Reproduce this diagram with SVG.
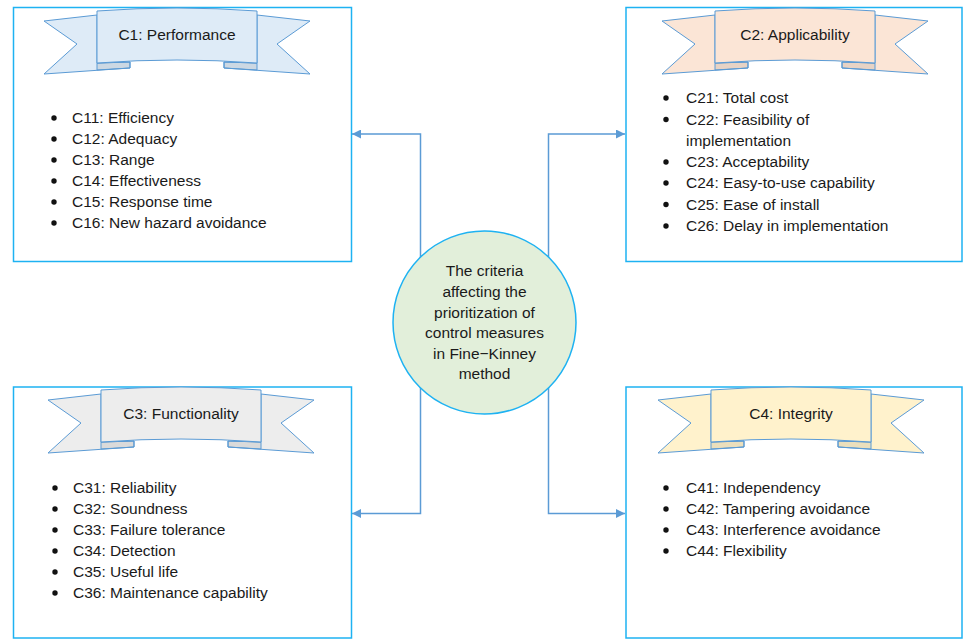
<svg xmlns="http://www.w3.org/2000/svg" xmlns:xlink="http://www.w3.org/1999/xlink" width="963" height="640" viewBox="0 0 963 640">
<style>
  .box { fill: #ffffff; stroke: #1EB2F2; stroke-width: 1.5; }
  .rb { stroke: #5B9BD5; stroke-width: 1; stroke-linejoin: miter; }
  .fold { fill: #000000; fill-opacity: 0.08; stroke: #5B9BD5; stroke-width: 1; }
  .title { font-family: "Liberation Sans", Arial, sans-serif; font-size: 15.5px; fill: #1a1a1a; text-anchor: middle; }
  .item { font-family: "Liberation Sans", Arial, sans-serif; font-size: 15.5px; fill: #1a1a1a; }
  .center { font-family: "Liberation Sans", Arial, sans-serif; font-size: 15.5px; fill: #1a1a1a; text-anchor: middle; }
  .bullet { fill: #111111; }
  .conn { fill: none; stroke: #5B9BD5; stroke-width: 1.5; }
</style>
<defs>
  <marker id="arrow" viewBox="0 0 10 10" refX="10" refY="5" markerWidth="9" markerHeight="9" markerUnits="userSpaceOnUse" orient="auto">
    <path d="M0,0 L10,5 L0,10 Z" fill="#5B9BD5"/>
  </marker>
  <g id="ribbon">
    <path class="rb" d="M-53,11 L0,5 L0,53 L33,52 L33,58 L-53,64 L-20,34 Z"/>
    <path class="rb" d="M213,11 L160,5 L160,53 L127,52 L127,58 L213,64 L180,34 Z"/>
    <path class="fold" d="M0,53 L33,52 L33,58 L0,60 Z"/>
    <path class="fold" d="M160,53 L127,52 L127,58 L160,60 Z"/>
    <path class="rb" d="M0,1 Q80,-5 160,1 L160,53 Q80,47 0,53 Z"/>
  </g>
</defs>

<g id="connectors">
  <path class="conn" d="M420.5,320 V134 H352" marker-end="url(#arrow)"/>
  <path class="conn" d="M420.5,320 V513.5 H352" marker-end="url(#arrow)"/>
  <path class="conn" d="M548.5,320 V134 H625" marker-end="url(#arrow)"/>
  <path class="conn" d="M548.5,320 V513.5 H625" marker-end="url(#arrow)"/>
</g>

<g id="C1">
  <rect class="box" x="13.5" y="7.5" width="338" height="254"/>
  <use xlink:href="#ribbon" href="#ribbon" transform="translate(97,10)" fill="#DEEBF7"/>
  <text class="title" x="177" y="40">C1: Performance</text>
  <g class="bullet">
    <circle cx="54" cy="118" r="2.7"/><circle cx="54" cy="139" r="2.7"/><circle cx="54" cy="160" r="2.7"/>
    <circle cx="54" cy="181" r="2.7"/><circle cx="54" cy="202" r="2.7"/><circle cx="54" cy="223" r="2.7"/>
  </g>
  <text class="item" x="72" y="123">C11: Efficiency</text>
  <text class="item" x="72" y="144">C12: Adequacy</text>
  <text class="item" x="72" y="165">C13: Range</text>
  <text class="item" x="72" y="186">C14: Effectiveness</text>
  <text class="item" x="72" y="207">C15: Response time</text>
  <text class="item" x="72" y="228">C16: New hazard avoidance</text>
</g>

<g id="C2">
  <rect class="box" x="626" y="7.5" width="336" height="254"/>
  <use xlink:href="#ribbon" href="#ribbon" transform="translate(715,10)" fill="#FBE5D6"/>
  <text class="title" x="795" y="40">C2: Applicability</text>
  <g class="bullet">
    <circle cx="666" cy="98" r="2.7"/><circle cx="666" cy="119.5" r="2.7"/>
    <circle cx="666" cy="162" r="2.7"/><circle cx="666" cy="183" r="2.7"/><circle cx="666" cy="204.5" r="2.7"/><circle cx="666" cy="226" r="2.7"/>
  </g>
  <text class="item" x="686" y="103">C21: Total cost</text>
  <text class="item" x="686" y="124.5">C22: Feasibility of</text>
  <text class="item" x="686" y="145.5">implementation</text>
  <text class="item" x="686" y="167">C23: Acceptability</text>
  <text class="item" x="686" y="188">C24: Easy-to-use capability</text>
  <text class="item" x="686" y="209.5">C25: Ease of install</text>
  <text class="item" x="686" y="231">C26: Delay in implementation</text>
</g>

<g id="C3">
  <rect class="box" x="13.5" y="387" width="338" height="251"/>
  <use xlink:href="#ribbon" href="#ribbon" transform="translate(101,389)" fill="#EDEDED"/>
  <text class="title" x="181" y="419">C3: Functionality</text>
  <g class="bullet">
    <circle cx="55" cy="488" r="2.7"/><circle cx="55" cy="509" r="2.7"/><circle cx="55" cy="530" r="2.7"/>
    <circle cx="55" cy="551" r="2.7"/><circle cx="55" cy="572" r="2.7"/><circle cx="55" cy="593" r="2.7"/>
  </g>
  <text class="item" x="73" y="493">C31: Reliability</text>
  <text class="item" x="73" y="514">C32: Soundness</text>
  <text class="item" x="73" y="535">C33: Failure tolerance</text>
  <text class="item" x="73" y="556">C34: Detection</text>
  <text class="item" x="73" y="577">C35: Useful life</text>
  <text class="item" x="73" y="598">C36: Maintenance capability</text>
</g>

<g id="C4">
  <rect class="box" x="626" y="387" width="336" height="251"/>
  <use xlink:href="#ribbon" href="#ribbon" transform="translate(711,389)" fill="#FFF2CC"/>
  <text class="title" x="791" y="419">C4: Integrity</text>
  <g class="bullet">
    <circle cx="666" cy="488" r="2.7"/><circle cx="666" cy="509" r="2.7"/><circle cx="666" cy="530" r="2.7"/><circle cx="666" cy="551" r="2.7"/>
  </g>
  <text class="item" x="686" y="493">C41: Independency</text>
  <text class="item" x="686" y="514">C42: Tampering avoidance</text>
  <text class="item" x="686" y="535">C43: Interference avoidance</text>
  <text class="item" x="686" y="556">C44: Flexibility</text>
</g>

<g id="center">
  <circle cx="484.5" cy="322.5" r="91.5" fill="#E2EFDA" stroke="#1EB2F2" stroke-width="1.5"/>
  <text class="center" x="484.5" y="276">The criteria</text>
  <text class="center" x="484.5" y="297">affecting the</text>
  <text class="center" x="484.5" y="317.5">prioritization of</text>
  <text class="center" x="484.5" y="338">control measures</text>
  <text class="center" x="484.5" y="358.5">in Fine−Kinney</text>
  <text class="center" x="484.5" y="379">method</text>
</g>
</svg>
